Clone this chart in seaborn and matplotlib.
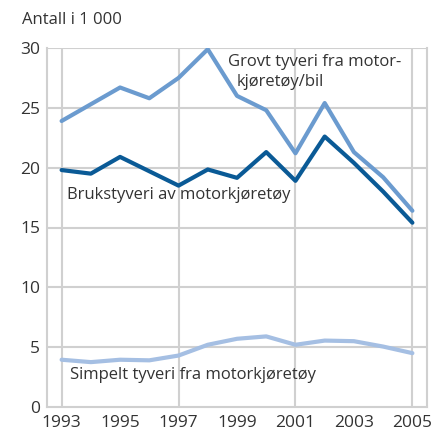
import numpy as np
import pandas as pd
import matplotlib
matplotlib.use("Agg")
import matplotlib.pyplot as plt
import seaborn as sns

years = list(range(1993, 2006))
grovt = [23.9, 25.3, 26.7, 25.8, 27.5, 29.9, 26.0, 24.8, 21.2, 25.4, 21.3, 19.2, 16.4]
bruk = [19.8, 19.5, 20.9, 19.7, 18.5, 19.85, 19.15, 21.3, 18.9, 22.6, 20.4, 18.0, 15.4]
simpelt = [3.95, 3.75, 3.95, 3.9, 4.3, 5.2, 5.7, 5.9, 5.2, 5.55, 5.5, 5.05, 4.5]
series_names = ["Grovt tyveri fra motorkjøretøy/bil", "Brukstyveri av motorkjøretøy",
                "Simpelt tyveri fra motorkjøretøy"]
colors = ["#6b9bcf", "#0a5a96", "#a5bfe3"]
yticks = [0, 5, 10, 15, 20, 25, 30]
xticklabels = [1993, 1995, 1997, 1999, 2001, 2003, 2005]

df = pd.concat([
    pd.DataFrame({"year": years, "value": grovt, "series": series_names[0]}),
    pd.DataFrame({"year": years, "value": bruk, "series": series_names[1]}),
    pd.DataFrame({"year": years, "value": simpelt, "series": series_names[2]}),
])

sns.set_style("white")
plt.rcParams["font.family"] = ["Open Sans", "DejaVu Sans"]

fig = plt.figure(figsize=(4.35, 4.29), dpi=100)
ax = fig.add_axes([47/435, 1-407/429, 380/435, 359/429])

grid_c = "#d0d0d0"
text_c = "#333333"

for x in [1993, 1997, 2001, 2005]:
    ax.axvline(x, color=grid_c, lw=1.5, zorder=0)
for y in yticks[1:]:
    ax.axhline(y, color=grid_c, lw=1.5, zorder=0)

sns.lineplot(data=df, x="year", y="value", hue="series", palette=colors,
             hue_order=series_names, lw=3.0, ax=ax, legend=False, zorder=3)

ax.set_xlim(1992.5, 2005.5)
ax.set_ylim(0, 30)
ax.set_xlabel("")
ax.set_ylabel("")
ax.set_xticks(xticklabels)
ax.set_xticklabels([str(v) for v in xticklabels], fontsize=12.5, color=text_c)
ax.set_xticks([y for y in years if y not in xticklabels], minor=True)
ax.set_yticks(yticks)
ax.set_yticklabels([str(v) for v in yticks], fontsize=12.5, color=text_c)
ax.tick_params(axis="x", which="both", length=5, width=1.5, color=grid_c, direction="out", pad=1)
ax.tick_params(axis="y", length=0, pad=5)

for s in ["left", "right", "bottom"]:
    ax.spines[s].set_color(grid_c)
    ax.spines[s].set_linewidth(1.5)
ax.spines["top"].set_visible(False)

ax.text(1998.68, 28.8, "Grovt tyveri fra motor-", fontsize=12, color=text_c, va="center", ha="left")
ax.text(1999.0, 27.15, "kjøretøy/bil", fontsize=12, color=text_c, va="center", ha="left")
ax.text(1993.2, 17.7, "Brukstyveri av motorkjøretøy", fontsize=12, color=text_c, va="center", ha="left")
ax.text(1993.27, 2.67, "Simpelt tyveri fra motorkjøretøy", fontsize=12, color=text_c, va="center", ha="left")

fig.text(22/435, 1-20/429, "Antall i 1 000", fontsize=12, color=text_c, va="center", ha="left")

fig.savefig("out.png", dpi=100, facecolor="white")
